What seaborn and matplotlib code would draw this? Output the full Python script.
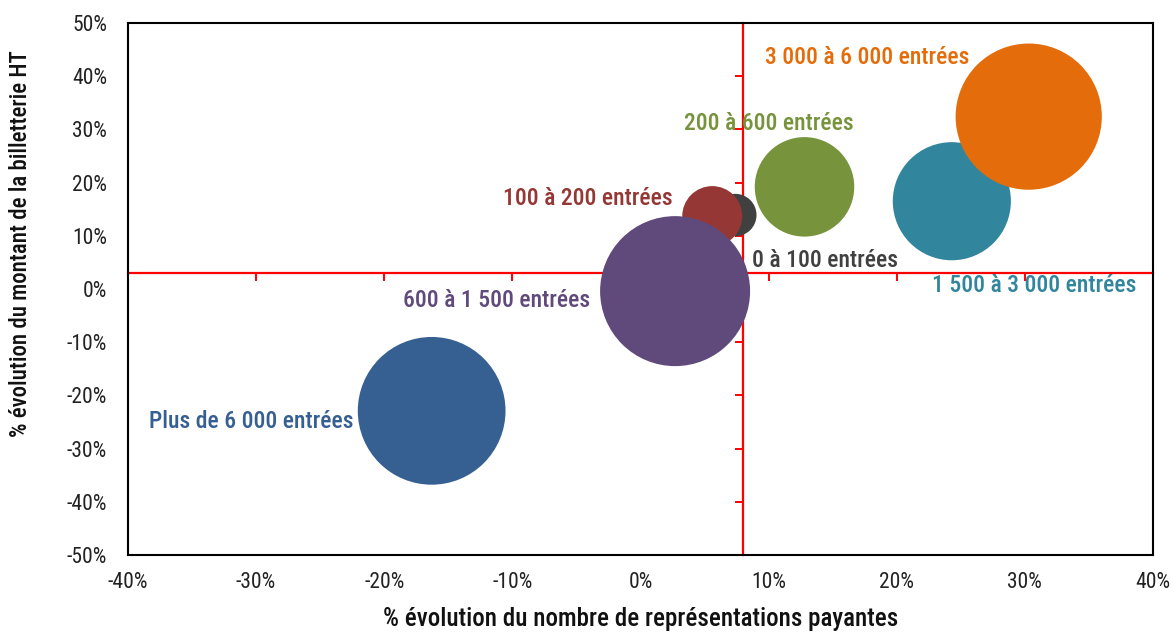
import matplotlib
matplotlib.use("Agg")
import matplotlib.pyplot as plt
from matplotlib import font_manager
from matplotlib.ticker import FuncFormatter, MultipleLocator
import pandas as pd
import seaborn as sns

# Classes de fréquentation (nombre d'entrées)
classes = ["0 à 100 entrées", "100 à 200 entrées", "200 à 600 entrées",
           "600 à 1 500 entrées", "1 500 à 3 000 entrées",
           "3 000 à 6 000 entrées", "Plus de 6 000 entrées"]
# % évolution du nombre de représentations payantes
evol_representations = [7.4, 5.6, 12.8, 2.7, 24.3, 30.3, -16.3]
# % évolution du montant de la billetterie HT
evol_billetterie = [13.9, 13.7, 19.2, -0.4, 16.5, 32.4, -22.9]
# Taille relative des bulles
taille_bulle = [8, 16, 44, 100, 62, 95, 97]
couleurs = ["#404040", "#953735", "#77933C", "#604A7B", "#31859C",
            "#E46C0A", "#376092"]
# Position des étiquettes (x, y en %)
etiq_x = [14.4, -4.1, 10.0, -11.2, 30.7, 17.7, -30.4]
etiq_y = [5.3, 17.1, 31.2, -2.1, 0.6, 43.6, -25.0]

# Croisement des axes
croisement_x = 8
croisement_y = 3

df = pd.DataFrame({"classe": classes, "x": evol_representations,
                   "y": evol_billetterie, "taille": taille_bulle})

sns.set_theme(style="white")
installed = {f.name for f in font_manager.fontManager.ttflist}
choix = [f for f in ["Roboto Condensed", "Liberation Sans Narrow", "Liberation Sans"]
         if f in installed]
plt.rcParams["font.family"] = choix + ["DejaVu Sans"]

DPI = 100
fig = plt.figure(figsize=(11.74, 6.33), dpi=DPI)
pos = [128 / 1174, 1 - 555 / 633, (1153 - 128) / 1174, (555 - 23) / 633]

# Axes rouges qui se croisent, sous les bulles
ax_red = fig.add_axes(pos, zorder=0)
ax = fig.add_axes(pos, sharex=ax_red, sharey=ax_red, zorder=1)
ax.patch.set_alpha(0)

ax.set_xlim(-40, 40)
ax.set_ylim(-50, 50)
ax.xaxis.set_major_locator(MultipleLocator(10))
ax.yaxis.set_major_locator(MultipleLocator(10))
pct = FuncFormatter(lambda v, _: f"{v:.0f}%")
ax.xaxis.set_major_formatter(pct)
ax.yaxis.set_major_formatter(pct)

for s in ["top", "right"]:
    ax_red.spines[s].set_visible(False)
ax_red.spines["left"].set_position(("data", croisement_x))
ax_red.spines["bottom"].set_position(("data", croisement_y))
for s in ["left", "bottom"]:
    ax_red.spines[s].set_color("#FF0000")
    ax_red.spines[s].set_linewidth(1.6)
ax_red.tick_params(axis="both", which="major", color="#FF0000", length=5.8,
                   width=1.4, direction="out", labelleft=False,
                   labelbottom=False, left=True, bottom=True)

smax = (2 * 75 * 0.72) ** 2
sns.scatterplot(data=df, x="x", y="y", hue="classe", palette=couleurs,
                size="taille", sizes=(0, smax), size_norm=(0, 100),
                linewidth=0, alpha=1, legend=False, ax=ax)

for lab, xx, yy, c in zip(classes, etiq_x, etiq_y, couleurs):
    ax.text(xx, yy, lab, color=c, fontsize=17, fontweight="medium",
            ha="center", va="center")

for s in ax.spines.values():
    s.set_color("black")
    s.set_linewidth(1.5)
ax.tick_params(axis="both", length=0, labelsize=15.5, colors="#222222")
ax.tick_params(axis="x", pad=12)
ax.tick_params(axis="y", pad=15)

ax.set_xlabel("% évolution du nombre de représentations payantes",
              fontsize=18, fontweight="medium", labelpad=10, color="#111111")
ax.set_ylabel("% évolution du montant de la billetterie HT",
              fontsize=16.5, fontweight="medium", color="#111111")
ax.yaxis.set_label_coords(-0.094, 0.585)

fig.savefig("out.png", dpi=DPI, facecolor="white")
